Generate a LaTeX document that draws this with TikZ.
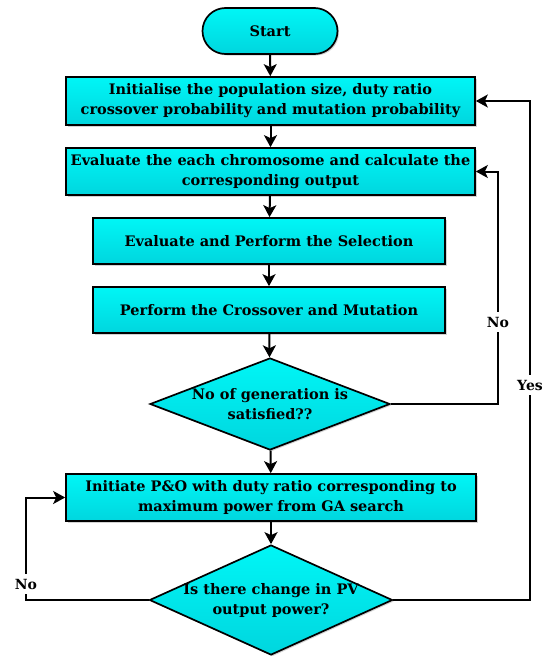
\documentclass[tikz,border=0pt]{standalone}
\usepackage{fontspec}
\setmainfont{DejaVu Serif}
\usetikzlibrary{shapes.geometric,arrows.meta,shadows}

\definecolor{fillTop}{HTML}{00F6F6}
\definecolor{fillBot}{HTML}{00D6DE}

\begin{document}
\begin{tikzpicture}[x=1pt,y=-1pt,
  boxbase/.style={draw=black, line width=1.7pt, top color=fillTop, bottom color=fillBot,
    drop shadow={shadow xshift=1.5pt, shadow yshift=-1.5pt, opacity=0.35}},
  txt/.style={font=\bfseries\fontsize{14.5}{20}\selectfont, align=center, text=black},
  term/.style={boxbase, txt, rounded corners=23pt, minimum width=135pt, minimum height=46pt, inner sep=0pt},
  procbox/.style={boxbase, txt, minimum height=47pt, inner sep=0pt},
  decision/.style={boxbase, diamond, inner sep=0pt},
  qtext/.style={txt, inner sep=0pt},
  arr/.style={line width=2pt, -{Stealth[length=12pt,width=13pt,inset=3pt]}},
  lbl/.style={fill=white, inner xsep=1pt, inner ysep=5pt, text=black, font=\bfseries\fontsize{14}{16}\selectfont}
]
\useasboundingbox (0,0) rectangle (550,656);

% main column
\node[term] (start) at (270,31) {Start};
\node[procbox, minimum width=409pt, minimum height=48pt] (init) at (270.5,101)
  {Initialise the population size, duty ratio\\crossover probability and mutation probability};
\node[procbox, minimum width=409pt] (eval) at (270.5,171.5)
  {Evaluate the each chromosome and calculate the\\corresponding output};
\node[procbox, minimum width=352pt, minimum height=46pt] (sel) at (269,241)
  {Evaluate and Perform the Selection};
\node[procbox, minimum width=352pt, minimum height=46pt] (cross) at (269,310)
  {Perform the Crossover and Mutation};
\node[decision, minimum width=240pt, minimum height=92pt] (gen) at (270,404) {};
\node[qtext] (gentxt) at (gen) {No of generation is\\satisfied??};
\node[procbox, minimum width=410pt] (po) at (271,497.5)
  {Initiate P\&O with duty ratio corresponding to\\maximum power from GA search};
\node[decision, minimum width=243pt, minimum height=110pt] (chg) at (271,600) {};
\node[qtext] (chgtxt) at (chg) {Is there change in PV\\output power?};

% straight flow
\draw[arr] (start) -- (init);
\draw[arr] (init) -- (eval);
\draw[arr] (eval) -- (sel);
\draw[arr] (sel) -- (cross);
\draw[arr] (cross) -- (gen);
\draw[arr] (gen) -- (po);
\draw[arr] (po) -- (chg);

% feedback loops
\coordinate (noR) at (498,0);
\coordinate (yesR) at (530,0);
\coordinate (noL) at (26,0);
\draw[arr] (gen.east) -- (gen.east -| noR) -- (eval.east -| noR) -- (eval.east);
\draw[arr] (chg.east) -- (chg.east -| yesR) -- (init.east -| yesR) -- (init.east);
\draw[arr] (chg.west) -- (chg.west -| noL) -- (po.west -| noL) -- (po.west);

\node[lbl] (noRlbl) at (498,322) {No};
\node[lbl] (yeslbl) at (530,385) {Yes};
\node[lbl] (noLlbl) at (26,584) {No};
\end{tikzpicture}
\end{document}
